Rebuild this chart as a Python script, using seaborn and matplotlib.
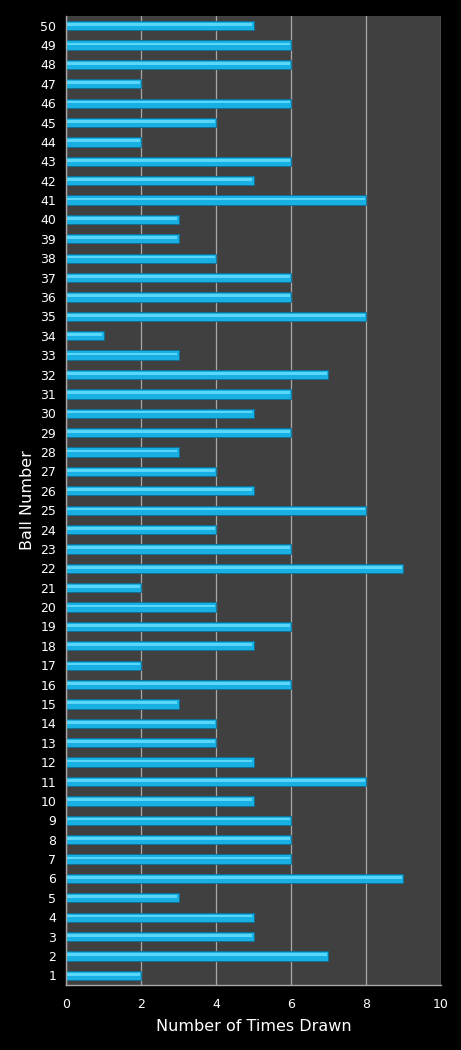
import pandas as pd
import matplotlib
matplotlib.use("Agg")
import matplotlib.pyplot as plt
import seaborn as sns

# Ball numbers and how often each was drawn
balls = list(range(1, 51))
times_drawn = [
    2, 7, 5, 5, 3, 9, 6, 6, 6, 5,
    8, 5, 4, 4, 3, 6, 2, 5, 6, 4,
    2, 9, 6, 4, 8, 5, 4, 3, 6, 5,
    6, 7, 3, 1, 8, 6, 6, 4, 3, 3,
    8, 5, 6, 2, 4, 6, 2, 6, 6, 5,
]
x_ticks = [0, 2, 4, 6, 8, 10]

df = pd.DataFrame({"Ball": [str(b) for b in balls], "Times": times_drawn})
order = [str(b) for b in reversed(balls)]

sns.set_style("dark")
plt.rcParams["font.family"] = ["DejaVu Sans"]

fig = plt.figure(figsize=(4.61, 10.5), dpi=100)
fig.patch.set_facecolor("black")
ax = fig.add_axes([0.1432, 0.0619, 0.8134, 0.9229])
ax.set_facecolor("#404040")

# main bar
sns.barplot(
    data=df, x="Times", y="Ball", order=order, orient="h",
    color="#18b0e2", width=0.48, saturation=1,
    edgecolor="#0c6f96", linewidth=0.6, ax=ax,
)
# lighter highlight stripe near the top of each bar
sns.barplot(
    data=df, x="Times", y="Ball", order=order, orient="h",
    color="#5ad6fa", width=0.14, saturation=1, linewidth=0, ax=ax,
)
for p in ax.patches[len(balls):]:
    p.set_y(p.get_y() - 0.06)
    p.set_width(p.get_width() - 0.03)

ax.set_xlim(0, 10)
ax.set_ylim(len(balls) - 0.5, -0.5)
ax.set_xticks(x_ticks)
ax.set_xticklabels([str(t) for t in x_ticks])
ax.grid(axis="x", color="#a8a8a8", linewidth=0.9)
ax.grid(axis="y", visible=False)
ax.set_axisbelow(True)

for s in ["top", "right"]:
    ax.spines[s].set_visible(False)
for s in ["left", "bottom"]:
    ax.spines[s].set_visible(True)
    ax.spines[s].set_color("#a8a8a8")
    ax.spines[s].set_linewidth(1)

ax.tick_params(axis="y", colors="white", labelsize=9, length=0, pad=7)
ax.tick_params(axis="x", colors="white", labelsize=9, length=0, pad=9)
ax.set_xlabel("Number of Times Drawn", color="white", fontsize=11.5, labelpad=6)
ax.set_ylabel("Ball Number", color="white", fontsize=11.5, labelpad=4)

fig.savefig("out.png", dpi=100, facecolor="black")
